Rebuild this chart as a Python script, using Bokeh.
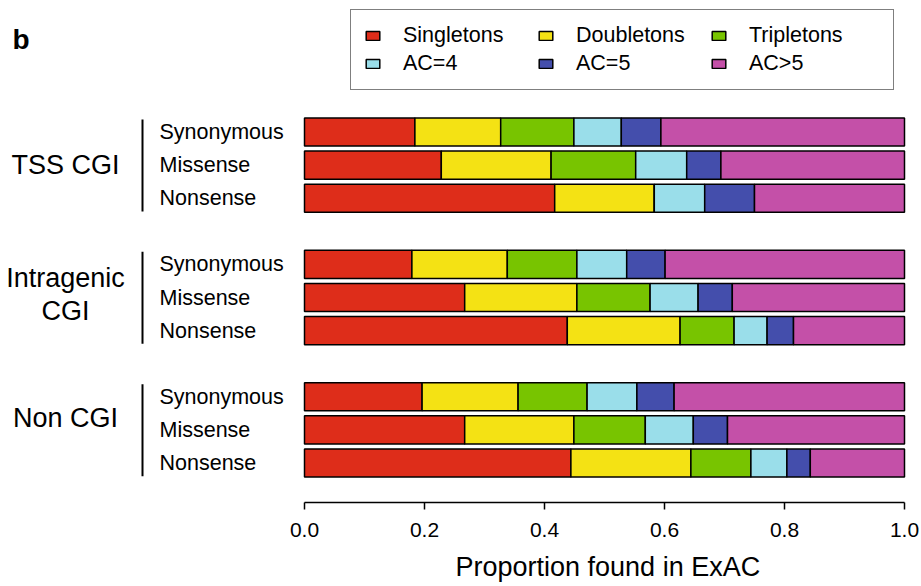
from bokeh.plotting import figure
from bokeh.models import (Range1d, Legend, LegendItem, Label, FixedTicker,
                          PrintfTickFormatter, ColumnDataSource, Title)
from bokeh.embed import file_html
from bokeh.resources import INLINE

# ---------------- data ----------------
groups = ["TSS CGI", "Intragenic CGI", "Non CGI"]
variant_types = ["Synonymous", "Missense", "Nonsense"]
categories = ["Singletons", "Doubletons", "Tripletons", "AC=4", "AC=5", "AC>5"]

# order: TSS(Syn, Mis, Non), Intragenic(Syn, Mis, Non), Non CGI(Syn, Mis, Non)
singletons = [0.184, 0.228, 0.417, 0.179, 0.267, 0.438, 0.196, 0.267, 0.444]
doubletons = [0.143, 0.183, 0.166, 0.159, 0.187, 0.188, 0.160, 0.182, 0.200]
tripletons = [0.122, 0.141, 0.000, 0.116, 0.122, 0.090, 0.115, 0.119, 0.100]
ac4 = [0.079, 0.085, 0.084, 0.083, 0.080, 0.055, 0.083, 0.080, 0.060]
ac5 = [0.066, 0.057, 0.083, 0.064, 0.057, 0.044, 0.062, 0.057, 0.039]
ac_gt5 = [0.406, 0.306, 0.250, 0.399, 0.287, 0.185, 0.384, 0.295, 0.157]

x_ticks = [0.0, 0.2, 0.4, 0.6, 0.8, 1.0]
x_title = "Proportion found in ExAC"

colors = ["#DE2D1A", "#F4E214", "#78C400", "#9ADEEA", "#444EAC", "#C450A8"]

# ---------------- layout helpers ----------------
FONT = "Liberation Sans"
W, FRAME_H, BOTTOM = 921, 502, 84
X0_PAGE, X_PX = 304.0, 600.0       # page x of value 0, px per unit
ROW0_PAGE, ROW_PX = 131.5, 33.1    # page y of first row, px per row


def dx(page_x):
    return (page_x - X0_PAGE) / X_PX


def dy(page_y):
    return (page_y - ROW0_PAGE) / ROW_PX


y_top = dy(0)
y_bot = y_top + FRAME_H / ROW_PX

pos = [gi * 4 + ti for gi in range(len(groups)) for ti in range(len(variant_types))]
row_labels = [t for _ in groups for t in variant_types]

stackers = ["singletons", "doubletons", "tripletons", "ac4", "ac5", "ac_gt5"]
source = ColumnDataSource(dict(pos=pos, singletons=singletons, doubletons=doubletons,
                               tripletons=tripletons, ac4=ac4, ac5=ac5, ac_gt5=ac_gt5))

p = figure(frame_width=W, frame_height=FRAME_H, output_backend="svg",
           toolbar_location=None, y_axis_location=None,
           x_range=Range1d(dx(0), dx(W)), y_range=Range1d(y_bot, y_top),
           min_border_left=0, min_border_right=0, min_border_top=0,
           min_border_bottom=BOTTOM)
p.outline_line_color = None
p.xgrid.visible = False
p.ygrid.visible = False
p.background_fill_color = "white"

renderers = p.hbar_stack(stackers, y="pos", height=0.85, fill_color=colors,
                         line_color="black", line_width=1.5, source=source)

# x axis
ax = p.xaxis[0]
ax.ticker = FixedTicker(ticks=x_ticks)
ax.formatter = PrintfTickFormatter(format="%.1f")
ax.bounds = (0, 1)
ax.axis_line_width = 1.5
ax.axis_line_color = "black"
ax.major_tick_line_width = 1.5
ax.major_tick_line_color = "black"
ax.major_tick_out = 7
ax.major_tick_in = 0
ax.minor_tick_line_color = None
ax.major_label_text_font = FONT
ax.major_label_text_font_size = "21px"
ax.major_label_text_color = "black"
ax.major_label_standoff = 13

# axis title (placed under the 0..1 axis line)
p.add_layout(Title(text=x_title, align="left", offset=455, standoff=20,
                   text_font=FONT, text_font_size="27px", text_font_style="normal",
                   text_color="black"), "below")

# row labels
for y, t in zip(pos, row_labels):
    p.add_layout(Label(x=dx(159), y=y, text=t, text_align="left", text_baseline="middle",
                       text_font=FONT, text_font_size="21.5px", text_color="black"))

# group brackets
firsts = [pos[gi * 3] for gi in range(len(groups))]
lasts = [pos[gi * 3 + 2] for gi in range(len(groups))]
p.segment(x0=[dx(142)] * 3, x1=[dx(142)] * 3,
          y0=[f - 0.38 for f in firsts], y1=[l + 0.4 for l in lasts],
          line_color="black", line_width=2)

# group labels
mids = [pos[gi * 3 + 1] for gi in range(len(groups))]
group_lines = [(["TSS CGI"], 0.0), (["Intragenic", "CGI"], -0.09), (["Non CGI"], -0.35)]
for m, (lines, off) in zip(mids, group_lines):
    n = len(lines)
    for k, line in enumerate(lines):
        yy = m + off + (k - (n - 1) / 2) * 1.0
        p.add_layout(Label(x=dx(65), y=yy, text=line, text_align="center",
                           text_baseline="middle", text_font=FONT,
                           text_font_size="27px", text_color="black"))

# panel letter
p.add_layout(Label(x=dx(12), y=dy(39), text="b", text_align="left",
                   text_baseline="alphabetic", text_font=FONT, text_font_size="28px",
                   text_font_style="bold", text_color="black"))

# legend
items = [LegendItem(label=c, renderers=[r]) for c, r in zip(categories, renderers)]
legend = Legend(items=items, location=(350, FRAME_H - 90), orientation="horizontal",
                ncols=3, glyph_width=17, glyph_height=11, label_standoff=22,
                label_width=131, label_height=24, spacing=3, padding=13, margin=0,
                label_text_font=FONT, label_text_font_size="21.5px",
                label_text_color="black", border_line_color="black",
                border_line_width=1.5, background_fill_color="white",
                background_fill_alpha=1.0)
p.add_layout(legend)

open("out.html", "w").write(file_html(p, INLINE))
